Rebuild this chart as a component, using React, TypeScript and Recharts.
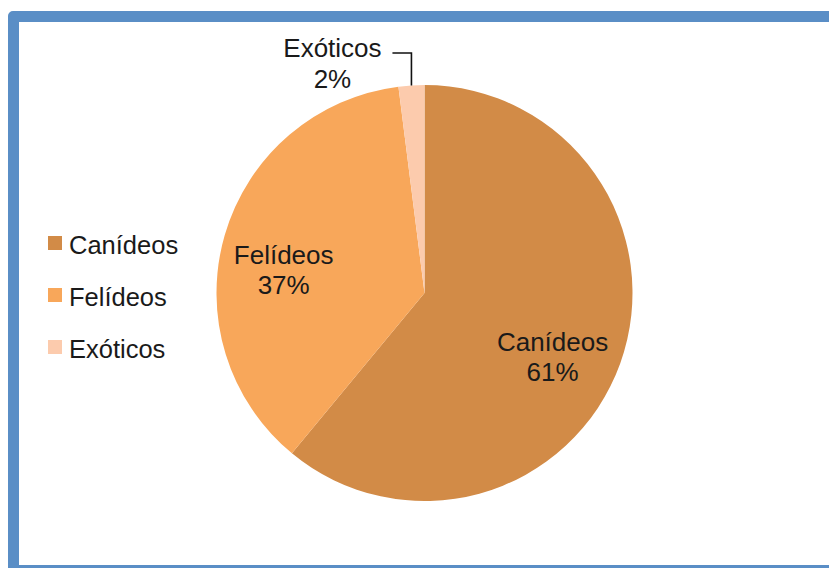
import React from 'react';
import { PieChart, Pie, Cell, Legend } from 'recharts';

const categories: string[] = ['Canídeos', 'Felídeos', 'Exóticos'];
const shares: number[] = [61, 37, 2];
const percentLabels: string[] = ['61%', '37%', '2%'];

const COLORS = ['#D28B47', '#F8A75A', '#FCCBAD'];
const TEXT = '#1a1a1a';
const FONT = '"Liberation Sans", Arial, sans-serif';
const LEGEND_W = 200;

const data = categories.map((name, i) => ({ name, value: shares[i], pct: percentLabels[i] }));

const RAD = Math.PI / 180;
const polar = (cx: number, cy: number, r: number, a: number) => ({
  x: cx + r * Math.cos(-a * RAD),
  y: cy + r * Math.sin(-a * RAD),
});

const renderLabel = (props: any) => {
  const { cx, cy, midAngle, outerRadius, index } = props;
  const d = data[index];
  if (d.value < 5) {
    const p = polar(cx, cy, outerRadius, midAngle);
    const elbowY = cy - outerRadius - 32;
    const endX = p.x - 19;
    const tx = endX - 60;
    return (
      <g>
        <polyline
          points={`${p.x},${p.y} ${p.x},${elbowY} ${endX},${elbowY}`}
          fill="none"
          stroke="#111"
          strokeWidth={1.6}
        />
        <text x={tx} y={elbowY + 4} textAnchor="middle" fill={TEXT} fontSize={26} fontFamily={FONT}>
          {d.name}
        </text>
        <text x={tx} y={elbowY + 35} textAnchor="middle" fill={TEXT} fontSize={26} fontFamily={FONT}>
          {d.pct}
        </text>
      </g>
    );
  }
  const p = polar(cx, cy, outerRadius * 0.68, midAngle);
  const ax = p.x - 5;
  const ay = p.y + 16;
  return (
    <g>
      <text x={ax} y={ay - 6} textAnchor="middle" fill={TEXT} fontSize={26} fontFamily={FONT}>
        {d.name}
      </text>
      <text x={ax} y={ay + 24} textAnchor="middle" fill={TEXT} fontSize={26} fontFamily={FONT}>
        {d.pct}
      </text>
    </g>
  );
};

const renderLegend = () => {
  return (
    <div style={{ display: 'flex', flexDirection: 'column' }}>
      {data.map((entry, i) => (
        <div key={i} style={{ display: 'flex', alignItems: 'center', height: 52 }}>
          <span
            style={{
              display: 'inline-block',
              width: 14,
              height: 14,
              background: COLORS[i],
              marginRight: 7,
            }}
          />
          <span style={{ fontFamily: FONT, fontSize: 25.5, color: TEXT, lineHeight: '26px', marginTop: 3 }}>
            {entry.name}
          </span>
        </div>
      ))}
    </div>
  );
};

export default function App() {
  return (
    <div
      style={{
        position: 'fixed',
        left: 0,
        top: 0,
        width: 829,
        height: 568,
        overflow: 'hidden',
        background: '#fff',
      }}
    >
      <div
        style={{
          position: 'absolute',
          left: 8,
          top: 11,
          width: 860,
          height: 565,
          border: '11px solid #5A8EC6',
          borderTopLeftRadius: 5,
          boxSizing: 'border-box',
        }}
      />
      <div style={{ position: 'absolute', left: 0, top: 0 }}>
        <PieChart width={829} height={568} margin={{ top: 0, right: 0, bottom: 0, left: 0 }}>
          <Pie
            data={data}
            dataKey="value"
            nameKey="name"
            cx={424.5 - LEGEND_W}
            cy={293}
            outerRadius={208}
            startAngle={90}
            endAngle={-270}
            stroke="none"
            isAnimationActive={false}
            label={renderLabel}
            labelLine={false}
          >
            {data.map((_, i) => (
              <Cell key={i} fill={COLORS[i]} />
            ))}
          </Pie>
          <Legend
            layout="vertical"
            align="left"
            verticalAlign="top"
            content={renderLegend}
            wrapperStyle={{ left: 48, top: 217, width: LEGEND_W }}
          />
        </PieChart>
      </div>
    </div>
  );
}
